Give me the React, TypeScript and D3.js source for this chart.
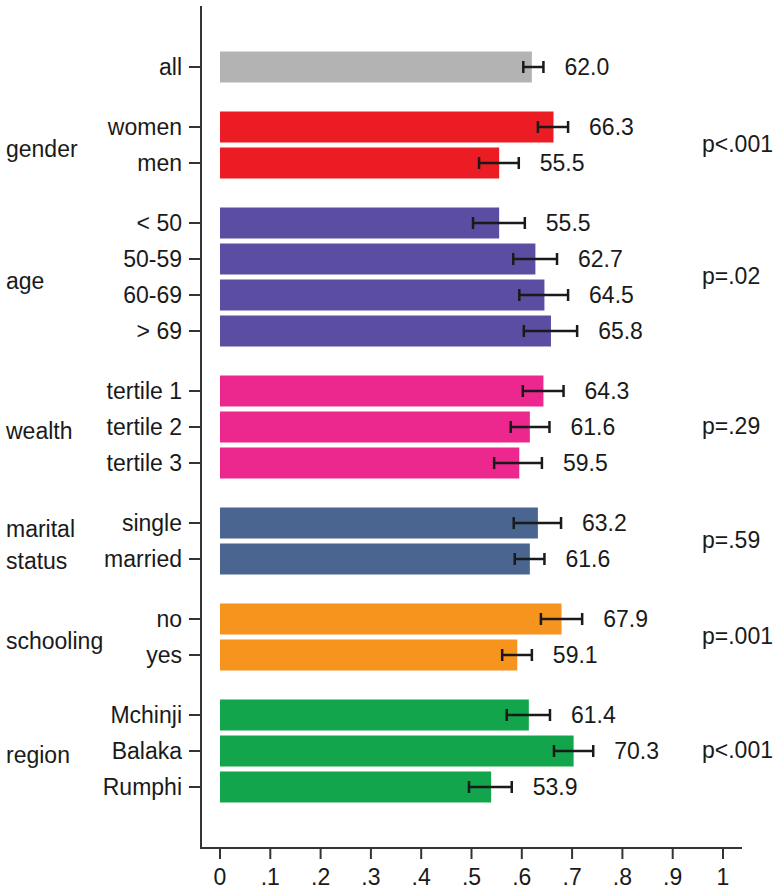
import React from "react";
import * as d3 from "d3";

const categories = ["all", "women", "men", "< 50", "50-59", "60-69", "> 69", "tertile 1", "tertile 2", "tertile 3", "single", "married", "no", "yes", "Mchinji", "Balaka", "Rumphi"];
const rowGroup = [0, 1, 1, 2, 2, 2, 2, 3, 3, 3, 4, 4, 5, 5, 6, 6, 6];
const values = [0.620, 0.663, 0.555, 0.555, 0.627, 0.645, 0.658, 0.643, 0.616, 0.595, 0.632, 0.616, 0.679, 0.591, 0.614, 0.703, 0.539];
const ciLow = [0.603, 0.632, 0.515, 0.503, 0.583, 0.595, 0.604, 0.602, 0.578, 0.545, 0.584, 0.586, 0.638, 0.561, 0.570, 0.664, 0.495];
const ciHigh = [0.643, 0.692, 0.594, 0.606, 0.670, 0.692, 0.710, 0.683, 0.655, 0.640, 0.678, 0.645, 0.720, 0.620, 0.656, 0.742, 0.580];
const groupLabels = [[], ["gender"], ["age"], ["wealth"], ["marital", "status"], ["schooling"], ["region"]];
const pValues = ["", "p<.001", "p=.02", "p=.29", "p=.59", "p=.001", "p<.001"];
const groupColors = ["#b3b3b3", "#ec1c24", "#5b4ea2", "#ec278e", "#4a6690", "#f7941d", "#12a54b"];
const tickValues = [0, 0.1, 0.2, 0.3, 0.4, 0.5, 0.6, 0.7, 0.8, 0.9, 1];
const tickLabels = ["0", ".1", ".2", ".3", ".4", ".5", ".6", ".7", ".8", ".9", "1"];

const W = 776;
const H = 891;
const FONT = "'Liberation Sans', Arial, Helvetica, sans-serif";
const TXT = "#1a1a1a";

export default function App() {
  const x = d3.scaleLinear().domain([0, 1]).range([220, 723]);
  const GAP = 2 / 3;
  const lastPos = categories.length - 1 + rowGroup[rowGroup.length - 1] * GAP;
  const y = d3.scaleLinear().domain([0, lastPos]).range([67, 787]);
  const posOf = (i: number) => i + rowGroup[i] * GAP;
  const barH = 31;
  const axisX = 201;
  const axisY = 848;

  const groupIdx = d3.range(groupLabels.length);
  const groupCenter = (g: number) => {
    const rows = d3.range(categories.length).filter((i) => rowGroup[i] === g);
    return d3.mean(rows, (i) => y(posOf(i))) as number;
  };

  return (
    <svg width={W} height={H} style={{ position: "absolute", left: 0, top: 0, background: "#fff" }} fontFamily={FONT}>
      <rect x={0} y={0} width={W} height={H} fill="#ffffff" />
      {categories.map((c, i) => {
        const cy = y(posOf(i));
        return (
          <g key={c}>
            <rect x={x(0)} y={cy - barH / 2} width={x(values[i]) - x(0)} height={barH} fill={groupColors[rowGroup[i]]} />
            <line x1={x(ciLow[i])} x2={x(ciHigh[i])} y1={cy} y2={cy} stroke={TXT} strokeWidth={2.5} />
            <line x1={x(ciLow[i])} x2={x(ciLow[i])} y1={cy - 6} y2={cy + 6} stroke={TXT} strokeWidth={2.5} />
            <line x1={x(ciHigh[i])} x2={x(ciHigh[i])} y1={cy - 6} y2={cy + 6} stroke={TXT} strokeWidth={2.5} />
            <text x={x(ciHigh[i]) + 21} y={cy} dy="0.35em" fontSize={23} fill={TXT}>
              {(values[i] * 100).toFixed(1)}
            </text>
            <line x1={189} x2={axisX} y1={cy} y2={cy} stroke="#333" strokeWidth={2} />
            <text x={182} y={cy} dy="0.35em" fontSize={23} fill={TXT} textAnchor="end">
              {c}
            </text>
          </g>
        );
      })}
      {groupIdx.map((g) => {
        const cy = groupCenter(g);
        const lines = groupLabels[g];
        return (
          <g key={"g" + g}>
            {lines.map((l, k) => (
              <text key={l} x={6} y={cy + 4 + (k - (lines.length - 1) / 2) * 32} dy="0.35em" fontSize={23} fill={TXT}>
                {l}
              </text>
            ))}
            {pValues[g] && (
              <text x={702} y={cy - 1} dy="0.35em" fontSize={23} fill={TXT}>
                {pValues[g]}
              </text>
            )}
          </g>
        );
      })}
      <line x1={axisX} x2={axisX} y1={6} y2={axisY + 1} stroke="#333" strokeWidth={2} />
      <line x1={axisX - 1} x2={742} y1={axisY} y2={axisY} stroke="#333" strokeWidth={2} />
      {tickValues.map((t, k) => (
        <g key={"t" + k}>
          <line x1={x(t)} x2={x(t)} y1={axisY} y2={axisY + 11} stroke="#333" strokeWidth={2} />
          <text x={x(t)} y={885} fontSize={23} fill={TXT} textAnchor="middle">
            {tickLabels[k]}
          </text>
        </g>
      ))}
    </svg>
  );
}
